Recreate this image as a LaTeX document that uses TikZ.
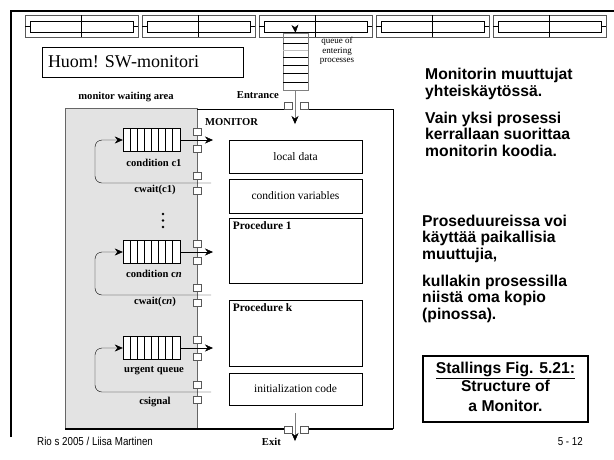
\documentclass[tikz,border=0pt]{standalone}
\usepackage{fontspec}
\setmainfont{Liberation Serif}
\newfontfamily\slidefont{Liberation Sans}
\newfontfamily\footfont[FakeStretch=0.85]{Liberation Sans}
\usetikzlibrary{arrows.meta,positioning}

\tikzset{
    lbl/.style={font=\bfseries\fontsize{10.6}{12}\selectfont, inner sep=0pt},
    partbox/.style={draw, line width=0.7pt, minimum width=133pt, inner sep=0pt, font=\fontsize{11.5}{13}\selectfont},
    gate/.style={draw=gray!70!black, fill=white, minimum width=8pt, minimum height=7pt, inner sep=0pt},
    qbox/.style={draw, fill=white, minimum width=57pt, minimum height=23pt, inner sep=0pt},
    note/.style={font=\slidefont\bfseries\fontsize{15.7}{16.5}\selectfont, align=left, inner sep=0pt, anchor=base west}
}

\begin{document}
\begin{tikzpicture}[>={Stealth[length=8pt,width=7pt]}, x=1pt, y=-1pt]
                \useasboundingbox (0,0) rectangle (614,459);
                \draw[line width=2.2pt] (11,437) -- (11,11) -- (614,11);
                \foreach \i in {0,...,4} {
                    \draw[gray!70!black] (25+117*\i,15) rectangle ++(113,22);
                    \draw (30+117*\i,21) rectangle ++(103,11);
                    \draw (25+117*\i,26.5) -- ++(5,0) (133+117*\i,26.5) -- ++(5,0);
                    \draw (81+117*\i,15) -- ++(0,22);
                }
                \node[draw, minimum width=201pt, minimum height=30pt, inner sep=0pt] (huom) at (142.5,62) {};
                \node[font=\fontsize{18}{20}\selectfont, anchor=west, inner sep=0pt] at ([xshift=6pt]huom.west) {Huom! SW-monitori};
                % entering queue
                \coordinate (top) at (295,26);
                \node[draw=gray, minimum width=25pt, minimum height=57pt, inner sep=0pt] (entq) at (295.5,61.5) {};
                \foreach \y in {43,57,65,73,82} \draw (283,\y) -- (308,\y);
                \draw[gray!50] (283,50) -- (308,50);
                \draw[->] (top) -- (entq.north);
                \node[font=\fontsize{9}{9.5}\selectfont, align=center, inner sep=0pt] (entlbl) at (337,51) {queue of\\entering\\processes};
                % waiting area and monitor
                \fill[gray!22] (65,108) rectangle (197,429);
                \draw[gray!80!black] (65,429) -- (65,108) -- (197,108);
                \draw[gray!80!black] (197,108) -- (197,429);
                \draw (197,109) -- (284,109) (308,109) -- (393,109) -- (393,429);
                \draw[line width=1.3pt] (65,429) -- (284,429) (308,429) -- (393,429);
                \node[lbl] (area) at (126,97) {monitor waiting area};
                \node[lbl, anchor=east] (entr) at (279,95) {Entrance};
                \node[lbl, anchor=west] (mon) at (205,122) {MONITOR};
                \coordinate (inA) at (295,90);
                \coordinate (inB) at (295,124);
                \draw[gray, -{Stealth[length=8pt,width=7pt,color=black]}] (inA) -- (inB);
                \node[gate] at (288,106) {};
                \node[gate] at (304,106) {};
                \coordinate (outA) at (295,413);
                \coordinate (outB) at (295,441);
                \draw[gray, -{Stealth[length=8pt,width=7pt,color=black]}] (outA) -- (outB);
                \node[gate] at (288,429.5) {};
                \node[gate] at (304,429.5) {};
                \node[lbl, anchor=east] (exit) at (281,442) {Exit};
                % queues
                \foreach \n/\a/\l in {qone/140/183, qn/252/295, qurg/348/392} {
                    \node[qbox] (\n) at (151.5,\a) {};
                    \foreach \x in {7,14,...,49} \draw ([xshift=\x pt]\n.north west) -- ([xshift=\x pt]\n.south west);
                    \coordinate (\n out) at (213,\a);
                    \coordinate (\n back) at (211,\l);
                    \draw[->] (\n.east) -- (\n out);
                    \draw[->, rounded corners=7pt] (\n back) -- (95,\l) -- (95,\a) -- (\n.west);
                    \node[gate] at (197,\a-8.5) {};
                    \node[gate] at (197,\a+8.5) {};
                    \node[gate] at (197,\l-7.5) {};
                    \node[gate] at (197,\l+8) {};
                }
                \node[lbl] at (154,163) {condition c1};
                \node[lbl] at (155,190) {cwait(c1)};
                \node[lbl] at (154,274) {condition c\textit{n}};
                \node[lbl] at (155,302) {cwait(c\textit{n})};
                \node[lbl] at (154,371) {urgent queue};
                \node[lbl] at (155,402) {csignal};
                \foreach \y in {214,220.5,227} \fill (163,\y) circle (1.3pt);
                % monitor parts
                \node[partbox, minimum height=33pt] (ldata) at (295.5,156.5) {local data};
                \node[partbox, minimum height=34pt] (cvars) at (295.5,196) {condition variables};
                \node[partbox, minimum height=65pt] (proc1) at (295.5,250.5) {};
                \node[partbox, minimum height=66pt] (prock) at (295.5,333) {};
                \node[partbox, minimum height=32pt] (init) at (295.5,389) {initialization code};
                \node[lbl, font=\bfseries\fontsize{11.4}{13}\selectfont, anchor=north west] at ([xshift=4pt,yshift=-4pt]proc1.north west) {Procedure 1};
                \node[lbl, font=\bfseries\fontsize{11.4}{13}\selectfont, anchor=north west] at ([xshift=4pt,yshift=-4pt]prock.north west) {Procedure k};
                % slide text
                \node[note] (n1) at (425,96) {Monitorin muuttujat\\yhteiskäytössä.};
                \node[note] (n2) at (425,156) {Vain yksi prosessi\\kerrallaan suorittaa\\monitorin koodia.};
                \node[note] (n3) at (422,259) {Proseduureissa voi\\käyttää paikallisia\\muuttujia,};
                \node[note] (n4) at (422,319) {kullakin prosessilla\\niistä oma kopio\\(pinossa).};
                \node[draw, line width=1.6pt, minimum width=165pt, minimum height=66pt, inner sep=0pt] (fig) at (505.5,389) {};
                \node[font=\slidefont\bfseries\fontsize{15.7}{16.5}\selectfont, anchor=base, inner sep=0pt] at (505.5,373) {\underline{Stallings Fig. 5.21:}};
                \node[font=\slidefont\bfseries\fontsize{15.7}{16.5}\selectfont, anchor=base, inner sep=0pt] at (505.5,391) {Structure of};
                \node[font=\slidefont\bfseries\fontsize{15.7}{16.5}\selectfont, anchor=base, inner sep=0pt] at (505.5,411) {a Monitor.};
                \node[font=\footfont\fontsize{11.5}{12}\selectfont, anchor=west, inner sep=0pt] (foot) at (37,441) {Rio s 2005 / Liisa Martinen};
                \node[font=\footfont\fontsize{11.5}{12}\selectfont, anchor=east, inner sep=0pt] (page) at (583,442) {5 - 12};
            \end{tikzpicture}
\end{document}
